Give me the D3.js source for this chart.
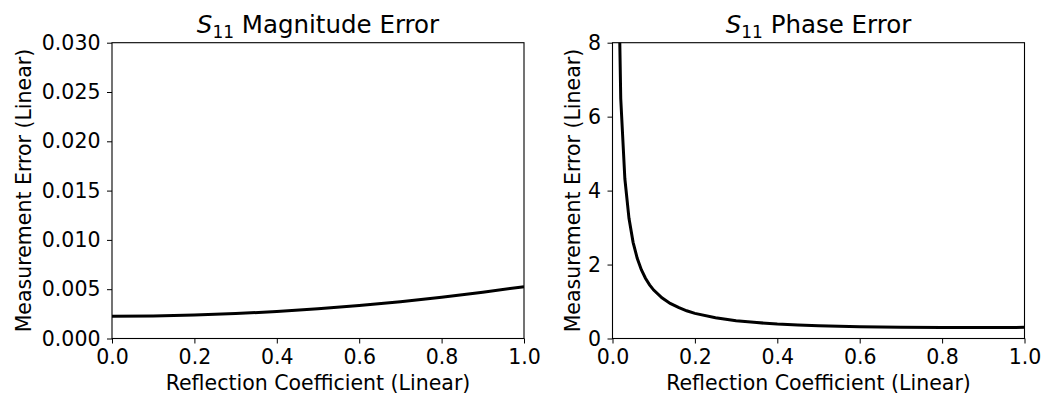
<!DOCTYPE html>
<html><head><meta charset="utf-8">
<script src="https://cdn.jsdelivr.net/npm/d3@7"></script>
<style>
body{margin:0;background:#fff;}
text{font-family:"DejaVu Sans",sans-serif;fill:#000;}
</style></head>
<body><svg id="c" width="1057" height="394"></svg>
<script>
// Magnitude error vs reflection coefficient
const magX = [0.0, 0.1, 0.2, 0.3, 0.4, 0.5, 0.6, 0.7, 0.8, 0.9, 1.0];
const magY = [0.00226, 0.00229, 0.00238, 0.00253, 0.00274, 0.00301, 0.00334, 0.00373, 0.00418, 0.00469, 0.00526];
// Phase error vs reflection coefficient
const phaseX = [0.01, 0.02, 0.03, 0.04, 0.05, 0.06, 0.07, 0.08, 0.09, 0.10, 0.12, 0.14, 0.16, 0.18, 0.20, 0.25, 0.30, 0.35, 0.40, 0.45, 0.50, 0.60, 0.70, 0.80, 0.90, 1.00];
const phaseY = [13.06, 6.49, 4.32, 3.25, 2.60, 2.17, 1.86, 1.63, 1.45, 1.31, 1.10, 0.95, 0.84, 0.75, 0.68, 0.56, 0.48, 0.43, 0.39, 0.365, 0.345, 0.319, 0.305, 0.300, 0.299, 0.301];
const xTicks = [0.0, 0.2, 0.4, 0.6, 0.8, 1.0];
const magTicks = [0.000, 0.005, 0.010, 0.015, 0.020, 0.025, 0.030];
const phaseTicks = [0, 2, 4, 6, 8];

const svg = d3.select("#c");
const plotTop = 42.7, plotBottom = 338.5;

function panel(id, left, right, labelX, xs, ys, yDomain, yTicks, yFmt, titleMain, curve) {
  const x = d3.scaleLinear().domain([0, 1]).range([left, right]);
  const y = d3.scaleLinear().domain(yDomain).range([plotBottom, plotTop]);
  const g = svg.append("g");
  g.append("clipPath").attr("id", id).append("rect")
    .attr("x", left).attr("y", plotTop).attr("width", right - left).attr("height", plotBottom - plotTop);
  const line = d3.line().x((d, i) => x(xs[i])).y((d, i) => y(ys[i])).curve(curve);
  g.append("path").datum(ys).attr("d", line).attr("fill", "none")
    .attr("stroke", "#000").attr("stroke-width", 3).attr("clip-path", `url(#${id})`);
  const xa = g.append("g").attr("transform", `translate(0,${plotBottom})`)
    .call(d3.axisBottom(x).tickValues(xTicks).tickFormat(d3.format(".1f")).tickSize(5).tickPadding(5.5));
  const ya = g.append("g").attr("transform", `translate(${left},0)`)
    .call(d3.axisLeft(y).tickValues(yTicks).tickFormat(yFmt).tickSize(5).tickPadding(6.5));
  [xa, ya].forEach(a => {
    a.selectAll("text").style("font-size", "20.5px").attr("fill", "#000");
    a.selectAll("line").attr("stroke", "#000").attr("stroke-width", 1);
    a.select(".domain").remove();
  });
  g.append("rect").attr("x", left).attr("y", plotTop).attr("width", right - left).attr("height", plotBottom - plotTop)
    .attr("fill", "none").attr("stroke", "#000").attr("stroke-width", 1.1);
  // title
  const t = g.append("text").attr("x", (left + right) / 2).attr("y", 33).attr("text-anchor", "middle")
    .style("font-size", "24.5px");
  t.append("tspan").attr("font-style", "italic").text("S");
  t.append("tspan").attr("dy", 5).style("font-size", "17px").text("11");
  t.append("tspan").attr("dy", -5).text(" " + titleMain);
  // labels
  g.append("text").attr("x", (left + right) / 2).attr("y", 390).attr("text-anchor", "middle")
    .style("font-size", "20.5px").text("Reflection Coefficient (Linear)");
  g.append("text").attr("transform", `translate(${labelX},${(plotTop + plotBottom) / 2}) rotate(-90)`)
    .attr("text-anchor", "middle").style("font-size", "20.5px").text("Measurement Error (Linear)");
}

panel("clipA", 112, 524, 31, magX, magY, [0, 0.03], magTicks, d3.format(".3f"), "Magnitude Error", d3.curveMonotoneX);
panel("clipB", 612.5, 1024.5, 579.5, phaseX, phaseY, [0, 8], phaseTicks, d3.format("d"), "Phase Error", d3.curveLinear);
</script></body></html>
